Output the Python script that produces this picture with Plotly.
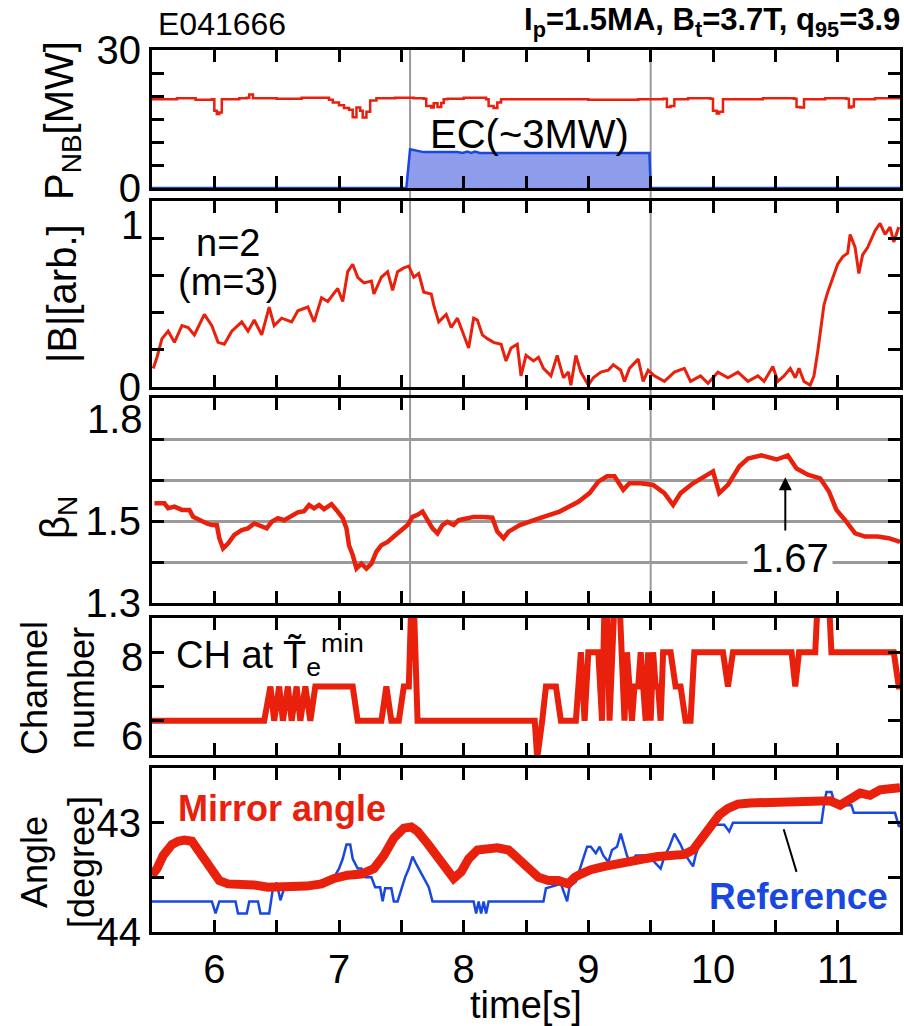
import plotly.graph_objects as go

W, H = 904, 1026
def PX(x): return x / W
def PY(y): return 1 - y / H

RED = "#E8200C"
BLUE = "#1848E0"
ECFILL = "#8E9CEC"
GRAY = "#9a9a9a"
FONT = "Liberation Sans, Arial, Helvetica, sans-serif"

# ---------------- data ----------------
nb_t = [5.50, 5.70, 5.85, 5.98, 6.00, 6.02, 6.04, 6.06, 6.20, 6.26, 6.28, 6.31, 6.50, 6.70, 6.92, 6.95, 7.00, 7.04,
        7.08, 7.11, 7.14, 7.17, 7.19, 7.22, 7.25, 7.30, 7.45, 7.60, 7.68, 7.70, 7.74, 7.76, 7.79, 7.82, 7.84, 7.87,
        8.00, 8.18, 8.20, 8.24, 8.27, 8.30, 8.60, 9.00, 9.40, 9.60, 9.63, 9.66, 9.69, 9.80, 9.98, 10.00, 10.03,
        10.05, 10.08, 10.40, 10.65, 10.67, 10.70, 10.73, 10.90, 11.07, 11.09, 11.11, 11.13, 11.30, 11.50]
nb_v = [19.3, 19.5, 19.2, 19.3, 16.8, 16.1, 16.4, 19.3, 19.5, 19.6, 20.3, 19.5, 19.4, 19.6, 19.2, 18.6, 18.0, 17.4,
        17.0, 15.4, 17.5, 16.8, 15.3, 16.6, 19.0, 19.5, 19.6, 19.5, 19.4, 17.8, 17.5, 18.4, 17.6, 18.5, 19.3, 19.4,
        19.6, 19.3, 17.8, 17.4, 18.6, 19.3, 19.3, 19.2, 19.3, 19.4, 17.6, 17.8, 19.3, 19.5, 19.4, 16.8, 16.2, 16.6,
        19.3, 19.5, 19.4, 17.6, 17.5, 19.3, 19.5, 19.4, 17.5, 17.7, 19.3, 19.5, 19.4]

ec_t = [5.50, 7.54, 7.57, 7.60, 7.64, 7.68, 7.95, 7.99, 8.03, 8.06, 8.09, 8.13, 9.49, 9.50, 11.50]
ec_v = [0, 0, 8.4, 8.2, 8.0, 7.8, 7.8, 7.6, 7.9, 7.6, 7.9, 7.6, 7.6, 0, 0]

b_t = [5.51, 5.54, 5.58, 5.63, 5.68, 5.74, 5.79, 5.84, 5.92, 5.98, 6.03, 6.08, 6.14, 6.22, 6.27, 6.32, 6.38,
       6.44, 6.48, 6.54, 6.62, 6.67, 6.75, 6.80, 6.86, 6.91, 6.99, 7.03, 7.07, 7.11, 7.15, 7.20, 7.26, 7.28,
       7.34, 7.39, 7.43, 7.47, 7.52, 7.56, 7.60, 7.64, 7.68, 7.74, 7.76, 7.80, 7.86, 7.90, 7.95, 8.00, 8.04,
       8.08, 8.11, 8.15, 8.19, 8.24, 8.30, 8.34, 8.38, 8.43, 8.46, 8.50, 8.56, 8.60, 8.64, 8.70, 8.75, 8.80,
       8.84, 8.86, 8.90, 8.94, 9.00, 9.04, 9.10, 9.16, 9.20, 9.26, 9.29, 9.33, 9.40, 9.44, 9.48, 9.53, 9.61,
       9.69, 9.77, 9.82, 9.90, 9.96, 10.04, 10.12, 10.20, 10.28, 10.36, 10.41, 10.48, 10.52, 10.57, 10.62,
       10.66, 10.69, 10.73, 10.78, 10.81, 10.84, 10.86, 10.89, 10.92, 10.94, 10.97, 11.00, 11.04, 11.08,
       11.10, 11.14, 11.17, 11.20, 11.24, 11.26, 11.30, 11.34, 11.38, 11.42, 11.45, 11.49]
b_v = [0.10, 0.16, 0.26, 0.30, 0.24, 0.33, 0.32, 0.28, 0.39, 0.33, 0.24, 0.23, 0.30, 0.35, 0.30, 0.36, 0.28,
       0.43, 0.33, 0.37, 0.35, 0.41, 0.43, 0.35, 0.48, 0.46, 0.53, 0.46, 0.62, 0.66, 0.59, 0.56, 0.57, 0.50,
       0.59, 0.62, 0.52, 0.62, 0.64, 0.65, 0.59, 0.61, 0.51, 0.50, 0.44, 0.35, 0.39, 0.32, 0.37, 0.28, 0.21,
       0.37, 0.36, 0.28, 0.26, 0.24, 0.23, 0.14, 0.21, 0.23, 0.06, 0.17, 0.14, 0.16, 0.10, 0.06, 0.17, 0.05,
       0.08, 0.01, 0.17, 0.08, 0.01, 0.05, 0.08, 0.09, 0.12, 0.09, 0.03, 0.10, 0.15, 0.03, 0.09, 0.06, 0.03,
       0.08, 0.10, 0.03, 0.06, 0.02, 0.08, 0.05, 0.08, 0.03, 0.06, 0.03, 0.11, 0.03, 0.06, 0.10,
       0.05, 0.10, 0.03, 0.01, 0.06, 0.19, 0.28, 0.44, 0.51, 0.55, 0.61, 0.66, 0.70, 0.72,
       0.82, 0.75, 0.61, 0.71, 0.75, 0.78, 0.84, 0.88, 0.82, 0.86, 0.78, 0.86]

bn_t = [5.52, 5.60, 5.63, 5.68, 5.74, 5.80, 5.83, 5.88, 5.94, 5.98, 6.02, 6.04, 6.07, 6.11, 6.16, 6.22, 6.27,
        6.32, 6.38, 6.42, 6.46, 6.51, 6.56, 6.62, 6.67, 6.72, 6.76, 6.80, 6.84, 6.88, 6.94, 6.99, 7.03, 7.06,
        7.08, 7.11, 7.14, 7.18, 7.22, 7.26, 7.30, 7.34, 7.39, 7.44, 7.50, 7.55, 7.59, 7.63, 7.67, 7.71, 7.75,
        7.79, 7.83, 7.87, 7.92, 7.96, 8.02, 8.08, 8.16, 8.23, 8.27, 8.32, 8.36, 8.45, 8.64, 8.77, 8.92, 9.01,
        9.08, 9.15, 9.21, 9.28, 9.33, 9.42, 9.52, 9.61, 9.68, 9.74, 9.84, 9.93, 10.00, 10.05, 10.12, 10.21,
        10.28, 10.39, 10.51, 10.60, 10.67, 10.76, 10.86, 10.93, 10.99, 11.06, 11.14, 11.22, 11.32, 11.41, 11.50]
bn_v = [1.543, 1.543, 1.531, 1.535, 1.527, 1.527, 1.510, 1.502, 1.494, 1.490, 1.490, 1.458, 1.433, 1.445,
        1.466, 1.478, 1.482, 1.494, 1.486, 1.482, 1.498, 1.507, 1.502, 1.513, 1.521, 1.524, 1.539, 1.531,
        1.539, 1.529, 1.541, 1.523, 1.507, 1.482, 1.441, 1.417, 1.384, 1.396, 1.384, 1.396, 1.425, 1.441,
        1.449, 1.462, 1.478, 1.490, 1.510, 1.515, 1.523, 1.502, 1.482, 1.470, 1.490, 1.498, 1.490, 1.502,
        1.507, 1.510, 1.510, 1.508, 1.474, 1.458, 1.474, 1.490, 1.510, 1.523, 1.547, 1.568, 1.596, 1.609,
        1.609, 1.576, 1.592, 1.592, 1.588, 1.568, 1.539, 1.568, 1.592, 1.609, 1.621, 1.568, 1.588, 1.633,
        1.652, 1.660, 1.650, 1.660, 1.628, 1.613, 1.604, 1.572, 1.527, 1.502, 1.470, 1.462, 1.462, 1.458,
        1.449]

ch_t = [5.50, 6.40, 6.45, 6.48, 6.52, 6.55, 6.59, 6.62, 6.66, 6.69, 6.73, 6.77, 6.81, 6.87, 6.91,
        7.11, 7.15, 7.34, 7.38, 7.42, 7.48, 7.52, 7.56, 7.58, 7.60, 7.63,
        8.57, 8.59, 8.63, 8.66, 8.74, 8.78, 8.90, 8.94, 8.97, 9.00, 9.08, 9.11, 9.13, 9.15, 9.17, 9.19, 9.21,
        9.25, 9.27, 9.29, 9.31, 9.33, 9.35, 9.37, 9.40, 9.42, 9.44, 9.46, 9.48, 9.50, 9.52, 9.54, 9.56, 9.58,
        9.60, 9.66, 9.70, 9.74, 9.78, 9.82, 9.85, 10.08, 10.12, 10.16, 10.63, 10.66, 10.69, 10.82, 10.84,
        10.93, 10.95, 11.45, 11.49, 11.50]
ch_v = [6, 6, 7, 6, 7, 6, 7, 6, 7, 6, 7, 6, 7, 7, 7,
        7, 6, 6, 7, 6, 6, 7, 7, 9.5, 9.5, 6,
        6, 4.9, 6, 7, 7, 6, 6, 8, 6, 8, 8, 6, 9.5, 9.5, 6, 8, 9.5,
        9.5, 8, 6, 8, 7, 6, 7, 7, 8, 7, 6, 8, 6, 8, 7, 7, 6,
        8, 8, 7, 7, 6, 6, 8, 8, 7, 8, 8, 7, 8, 8, 9.5,
        9.5, 8, 8, 7, 7]

ma_t = [5.50, 5.54, 5.59, 5.66, 5.71, 5.76, 5.82, 5.87, 5.92, 5.98, 6.04, 6.11, 6.22, 6.32, 6.43, 6.54, 6.64,
        6.74, 6.86, 6.96, 7.07, 7.18, 7.28, 7.36, 7.44, 7.52, 7.58, 7.63, 7.71, 7.79, 7.86, 7.92, 7.98, 8.04,
        8.11, 8.19, 8.27, 8.36, 8.43, 8.52, 8.60, 8.68, 8.76, 8.84, 8.89, 8.94, 9.02, 9.13, 9.24, 9.34, 9.45,
        9.56, 9.66, 9.77, 9.84, 9.89, 9.94, 10.00, 10.05, 10.12, 10.20, 10.30, 10.41, 10.52, 10.62, 10.73,
        10.84, 10.94, 11.02, 11.10, 11.18, 11.26, 11.34, 11.42, 11.50]
ma_v = [43.48, 43.42, 43.30, 43.20, 43.17, 43.16, 43.17, 43.25, 43.36, 43.45, 43.53, 43.56, 43.56, 43.57,
        43.59, 43.59, 43.59, 43.58, 43.56, 43.51, 43.48, 43.47, 43.42, 43.30, 43.14, 43.05, 43.04, 43.08,
        43.19, 43.31, 43.42, 43.51, 43.45, 43.33, 43.25, 43.24, 43.23, 43.25, 43.33, 43.42, 43.50, 43.53,
        43.53, 43.56, 43.50, 43.47, 43.43, 43.40, 43.37, 43.35, 43.33, 43.31, 43.30, 43.29, 43.25, 43.17,
        43.10, 43.01, 42.93, 42.87, 42.83, 42.82, 42.82, 42.81, 42.80, 42.81, 42.81, 42.80, 42.84, 42.79,
        42.73, 42.75, 42.70, 42.69, 42.68]

ref_t = [5.50, 5.98, 6.01, 6.04, 6.17, 6.19, 6.26, 6.28, 6.35, 6.37, 6.44, 6.47, 6.50, 6.53, 6.56,
         6.62, 6.83, 6.86, 6.96, 7.00, 7.03, 7.06, 7.09, 7.11, 7.15, 7.18, 7.21, 7.26, 7.29, 7.33, 7.35,
         7.37, 7.42, 7.44, 7.47, 7.50, 7.53, 7.56, 7.59, 7.62, 7.64, 7.68, 7.72, 7.75, 8.08,
         8.10, 8.12, 8.14, 8.16, 8.18, 8.20, 8.64, 8.66, 8.78, 8.80, 8.83, 8.85, 8.90, 8.95, 8.99,
         9.02, 9.06, 9.09, 9.12, 9.16, 9.19, 9.23, 9.26, 9.29, 9.31, 9.34, 9.38, 9.50, 9.53, 9.58,
         9.61, 9.65, 9.69, 9.74, 9.77, 9.81, 9.84, 9.86, 9.90, 9.93, 9.98, 10.09, 10.13, 10.16, 10.87,
         10.89, 10.91, 10.95, 10.98, 11.11, 11.13, 11.46, 11.49, 11.50]
ref_v = [43.72, 43.72, 43.83, 43.72, 43.72, 43.83, 43.83, 43.72, 43.72, 43.83, 43.83, 43.60, 43.55, 43.71, 43.60,
         43.59, 43.59, 43.53, 43.50, 43.42, 43.33, 43.20, 43.20, 43.33, 43.42, 43.42, 43.50, 43.50, 43.59, 43.59, 43.72,
         43.60, 43.60, 43.72, 43.72, 43.60, 43.50, 43.42, 43.31, 43.38, 43.42, 43.50, 43.59, 43.72, 43.72,
         43.83, 43.72, 43.83, 43.72, 43.83, 43.72, 43.72, 43.60, 43.56, 43.63, 43.72, 43.58, 43.54, 43.36, 43.22,
         43.22, 43.28, 43.22, 43.30, 43.36, 43.25, 43.22, 43.10, 43.22, 43.30, 43.38, 43.30, 43.30, 43.36, 43.42,
         43.31, 43.22, 43.10, 43.20, 43.28, 43.35, 43.40, 43.30, 43.16, 43.08, 43.02, 43.02, 43.08, 43.00, 43.00,
         42.84, 42.72, 42.72, 42.84, 42.84, 42.91, 42.91, 43.03, 43.03]

for a, b in [(nb_t, nb_v), (ec_t, ec_v), (b_t, b_v), (bn_t, bn_v), (ch_t, ch_v), (ma_t, ma_v), (ref_t, ref_v)]:
    assert len(a) == len(b), (len(a), len(b))

x_ticks = [5.5 + 0.5 * i for i in range(13)]
x_labels = ["" if (v % 1) else str(int(v)) for v in x_ticks]

# ---------------- geometry ----------------
XD = [PX(152), PX(900)]
YD = {1: [PY(188), PY(50)], 2: [PY(387), PY(201)], 3: [PY(603), PY(398)],
      4: [PY(755), PY(618)], 5: [PY(932), PY(768)]}

fig = go.Figure()

def add(trace, n):
    trace.update(xaxis="x" if n == 1 else f"x{n}", yaxis="y" if n == 1 else f"y{n}")
    fig.add_trace(trace)

add(go.Scatter(x=ec_t, y=ec_v, mode="lines", fill="tozeroy", fillcolor=ECFILL,
               line=dict(color=BLUE, width=2.5)), 1)
add(go.Scatter(x=nb_t, y=nb_v, mode="lines", line=dict(color=RED, width=2.5, shape="hv")), 1)
add(go.Scatter(x=b_t, y=b_v, mode="lines", line=dict(color=RED, width=3)), 2)
add(go.Scatter(x=bn_t, y=bn_v, mode="lines", line=dict(color=RED, width=4.5)), 3)
add(go.Scatter(x=ch_t, y=ch_v, mode="lines", line=dict(color=RED, width=6)), 4)
add(go.Scatter(x=ref_t, y=ref_v, mode="lines", line=dict(color=BLUE, width=2.5)), 5)
add(go.Scatter(x=ma_t, y=ma_v, mode="lines", line=dict(color=RED, width=9)), 5)

tickfont = dict(family=FONT, size=40, color="black")
layout = dict(template="none", width=W, height=H, margin=dict(l=0, r=0, t=0, b=0, pad=0, autoexpand=False),
              paper_bgcolor="white", plot_bgcolor="rgba(0,0,0,0)", showlegend=False,
              font=dict(family=FONT, color="black"))

def xa(n):
    d = dict(domain=XD, range=[5.5, 11.5], tickmode="array", tickvals=x_ticks,
             ticktext=x_labels if n == 5 else [""] * len(x_ticks),
             showticklabels=(n == 5), tickfont=tickfont, automargin=False,
             showline=True, linewidth=3, linecolor="black", mirror="allticks",
             ticks="inside", ticklen=12, tickwidth=3, tickcolor="black",
             showgrid=False, zeroline=False, anchor="y" if n == 1 else f"y{n}")
    return d

def ya(n, rng, vals, texts, **kw):
    d = dict(domain=YD[n], range=rng, tickmode="array", tickvals=vals, ticktext=texts,
             tickfont=tickfont, showline=True, linewidth=3, linecolor="black", mirror="allticks",
             ticks="inside", ticklen=12, tickwidth=3, tickcolor="black", automargin=False,
             showgrid=False, zeroline=False, anchor="x" if n == 1 else f"x{n}")
    d.update(kw)
    return d

for n in range(1, 6):
    layout["xaxis" if n == 1 else f"xaxis{n}"] = xa(n)

layout["yaxis"] = ya(1, [0, 30], [0, 5, 10, 15, 20, 25, 30], ["0", "", "", "", "", "", "30"])
layout["yaxis2"] = ya(2, [0, 1.0], [0, 0.2, 0.4, 0.6, 0.8, 1.0], ["0", "", "", "", "", ""])
layout["yaxis3"] = ya(3, [1.3, 1.8], [1.3, 1.4, 1.5, 1.6, 1.7, 1.8], ["1.3", "", "1.5", "", "", ""],
                      showgrid=True, gridcolor=GRAY, gridwidth=2.5)
layout["yaxis4"] = ya(4, [5, 9], [5, 6, 7, 8, 9], ["", "", "", "", ""], showticklabels=False)
layout["yaxis5"] = ya(5, [44, 42.5], [42.5, 43, 43.5, 44], ["", "43", "", "44"])

fig.update_layout(**layout)

# vertical gray lines spanning top three panels
for xv in [7.57, 9.5]:
    fig.add_shape(type="line", xref="x", yref="paper", x0=xv, x1=xv, y0=PY(603), y1=PY(50),
                  line=dict(color=GRAY, width=2), layer="below")

# reference pointer line
fig.add_shape(type="line", xref="x5", yref="y5", x0=10.567, y0=43.06, x1=10.67, y1=43.45,
              line=dict(color="black", width=2))

def txt(x, y, s, size=38, color="black", xanchor="center", yanchor="middle", angle=0, **kw):
    fig.add_annotation(x=PX(x), y=PY(y), xref="paper", yref="paper", text=s, showarrow=False,
                       font=dict(family=FONT, size=size, color=color), xanchor=xanchor,
                       yanchor=yanchor, textangle=angle, **kw)

# header
txt(156, 24, "E041666", size=32, xanchor="left")
txt(902, 22, "<b>I<sub>p</sub>=1.5MA, B<sub>t</sub>=3.7T, q<sub>95</sub>=3.9</b>", size=31, xanchor="right")

# in-panel texts
txt(529, 134, "EC(~3MW)", size=40)
txt(228, 243, "n=2", size=38)
txt(228, 282, "(m=3)", size=38)
txt(174, 655, "CH at T\u0303<sub>e</sub><sup>min</sup>", size=38, xanchor="left")
txt(282, 808, "<b>Mirror angle</b>", size=36, color=RED)
txt(798, 896, "<b>Reference</b>", size=37, color=BLUE)

# tick labels placed off their ticks in the reference
txt(145, 225, "1", size=40, xanchor="right")
txt(145, 419, "1.8", size=40, xanchor="right")
txt(145, 657, "8", size=40, xanchor="right")
txt(145, 736, "6", size=40, xanchor="right")

# 1.67 annotation and arrow
fig.add_annotation(x=10.62, y=1.41, xref="x3", yref="y3", text="1.67", showarrow=False,
                   font=dict(family=FONT, size=40, color="black"), bgcolor="white", borderpad=3)
fig.add_annotation(x=10.58, y=1.607, xref="x3", yref="y3", ax=10.58, ay=1.473, axref="x3", ayref="y3",
                   text="", showarrow=True, arrowhead=2, arrowsize=1.3, arrowwidth=2, arrowcolor="black")

# axis titles
txt(62, 120, "P<sub>NB</sub>[MW]", size=40, angle=-90)
txt(62, 293, "|B|[arb.]", size=40, angle=-90)
txt(58, 518, "\u03b2<sub>N</sub>", size=40, angle=-90)
txt(58, 688, "Channel<br>number", size=36, angle=-90)
txt(58, 862, "Angle<br>[degree]", size=36, angle=-90)
txt(526, 1005, "time[s]", size=38)

fig.write_html("out.html")
